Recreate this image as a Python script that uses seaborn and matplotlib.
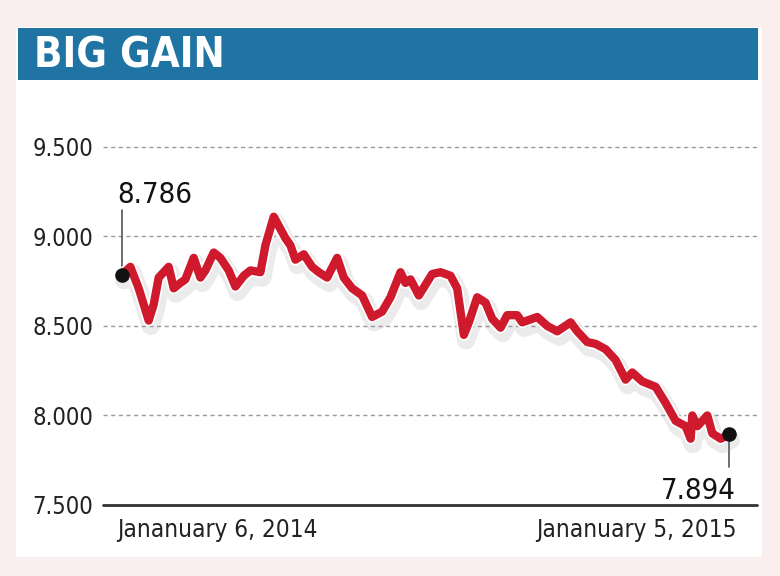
import matplotlib
matplotlib.use("Agg")
import matplotlib.pyplot as plt
import matplotlib.patheffects as pe
from matplotlib.patches import Rectangle
import seaborn as sns
import pandas as pd

# traced values (day offset from Jan 6, 2014 -> value)
day_offsets = [0, 5, 10, 16, 19, 22, 28, 31, 35, 38, 43, 47, 50, 55, 59, 64,
               68, 73, 77, 83, 86, 91, 98, 101, 104, 109, 114, 118, 123, 129,
               133, 138, 144, 150, 156, 161, 167, 170, 173, 178, 186, 191, 197,
               201, 205, 208, 213, 218, 222, 227, 231, 237, 240, 249, 255, 261,
               269, 273, 279, 284, 290, 296, 302, 306, 312, 320, 326, 332, 338,
               341, 342, 345, 348, 351, 354, 359, 364]
values = [8.786, 8.83, 8.71, 8.53, 8.62, 8.77, 8.83, 8.71, 8.74, 8.76, 8.88,
          8.77, 8.81, 8.91, 8.88, 8.81, 8.72, 8.78, 8.81, 8.80, 8.95, 9.11,
          8.99, 8.95, 8.87, 8.90, 8.83, 8.80, 8.77, 8.88, 8.77, 8.71, 8.67,
          8.55, 8.58, 8.66, 8.80, 8.74, 8.76, 8.67, 8.79, 8.80, 8.78, 8.71,
          8.45, 8.52, 8.66, 8.63, 8.54, 8.49, 8.56, 8.56, 8.52, 8.55, 8.50,
          8.47, 8.52, 8.47, 8.41, 8.40, 8.37, 8.31, 8.20, 8.24, 8.19, 8.16,
          8.07, 7.97, 7.94, 7.87, 8.00, 7.94, 7.97, 8.00, 7.90, 7.87, 7.894]
y_ticks = [7.5, 8.0, 8.5, 9.0, 9.5]
y_tick_labels = ["7.500", "8.000", "8.500", "9.000", "9.500"]
start_label = "Jananuary 6, 2014"
end_label = "Jananuary 5, 2015"

start = pd.Timestamp("2014-01-06")
df = pd.DataFrame({"date": start + pd.to_timedelta(day_offsets, unit="D"),
                   "value": values})

sns.set_style("white")
plt.rcParams["font.family"] = ["DejaVu Sans"]
plt.rcParams["font.stretch"] = "condensed"

bg = "#fbeeee"
fig = plt.figure(figsize=(7.8, 5.76), dpi=100, facecolor=bg)

# white panel + title bar
fig.patches.append(Rectangle((16 / 780, 1 - 557 / 576), 746 / 780, 530 / 576,
                             transform=fig.transFigure, facecolor="white",
                             edgecolor="none", zorder=0))
fig.patches.append(Rectangle((18 / 780, 1 - 80 / 576), 740 / 780, 52 / 576,
                             transform=fig.transFigure, facecolor="#1f74a3",
                             edgecolor="none", zorder=1))
fig.text(34 / 780, 1 - 55 / 576, "BIG GAIN", color="white", fontsize=30,
         fontweight="bold", va="center", ha="left")

ax = fig.add_axes([103 / 780, 1 - 505 / 576, 654 / 780, 385 / 576])
ax.set_facecolor("none")
ax.set_zorder(3)

sns.lineplot(data=df, x="date", y="value", ax=ax, color="#cf1a2d", lw=6,
             solid_joinstyle="round", solid_capstyle="round", zorder=4,
             path_effects=[pe.SimpleLineShadow(offset=(1.5, -4), shadow_color="#888888",
                                               alpha=0.16, linewidth=13),
                           pe.Stroke(linewidth=8.5, foreground="white"),
                           pe.Normal()])

ax.set_xlim(start - pd.Timedelta(days=11.4), start + pd.Timedelta(days=380.8))
ax.set_ylim(7.5, 9.65)

for yv in y_ticks[1:]:
    ax.axhline(yv, color="#9a9a9a", lw=1, ls=(0, (3, 2.5)), zorder=1)
ax.axhline(7.5, color="#333333", lw=2, zorder=5, clip_on=False)

ax.set_yticks(y_ticks)
ax.set_yticklabels(y_tick_labels)
ax.tick_params(axis="y", length=0, pad=7, labelsize=17, labelcolor="#222222")
ax.set_xticks([])
ax.set_xlabel("")
ax.set_ylabel("")
for s in ax.spines.values():
    s.set_visible(False)

# end-point markers and labels
first = df.iloc[0]
last = df.iloc[-1]
ax.plot([first["date"], first["date"]], [first["value"], 9.15], color="#555555", lw=1.2, zorder=3)
ax.plot([last["date"], last["date"]], [last["value"], 7.71], color="#555555", lw=1.2, zorder=3)
ax.scatter([first["date"], last["date"]], [first["value"], last["value"]], s=90,
           color="#111111", zorder=6)
ax.text(first["date"] - pd.Timedelta(days=3), 9.155, f"{first['value']:.3f}", fontsize=21,
        color="#111111", ha="left", va="bottom")
ax.text(last["date"] + pd.Timedelta(days=4), 7.655, f"{last['value']:.3f}", fontsize=21,
        color="#111111", ha="right", va="top")

fig.text(117 / 780, 1 - 530 / 576, start_label, fontsize=17.5, color="#222222",
         ha="left", va="center")
fig.text(737 / 780, 1 - 530 / 576, end_label, fontsize=17.5, color="#222222",
         ha="right", va="center")

fig.savefig("out.png", dpi=100, facecolor=bg)
